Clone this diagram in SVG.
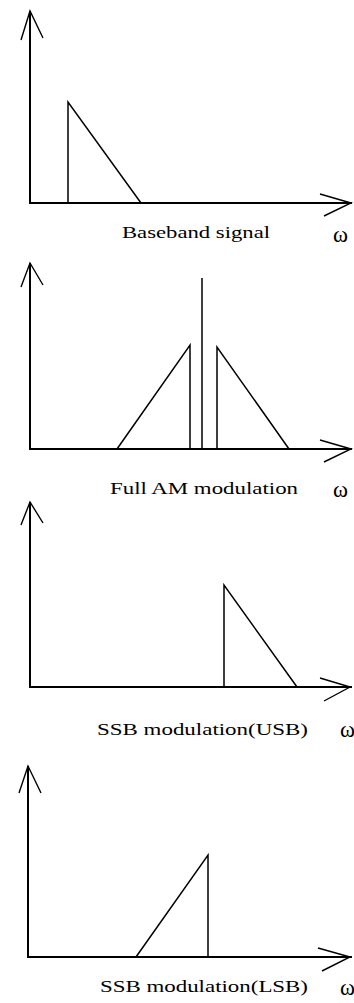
<svg xmlns="http://www.w3.org/2000/svg" width="354" height="1003" viewBox="0 0 354 1003">
<style>
.ax{stroke:#000;stroke-width:2;fill:none}
.ah{stroke:#000;stroke-width:1.4;fill:none}
.sp{stroke:#000;stroke-width:1.5;fill:none}
.lb{font-family:"Liberation Serif",serif;font-size:17px;fill:#000}
.om{font-family:"Liberation Serif","DejaVu Serif",serif;font-size:23px;fill:#000}
</style>
<rect width="354" height="1003" fill="#fff"/>
<g id="panel-baseband">
<line class="ax" x1="30" y1="11" x2="30" y2="203"/>
<polyline class="ah" points="21,40 30,11 43,38"/>
<line class="ax" x1="29" y1="203" x2="352" y2="203"/>
<polyline class="ah" points="320,194 351,203 324,216"/>
<polyline class="sp" points="68,203 68,102 141,203"/>
<text class="lb" x="122" y="238" textLength="148" lengthAdjust="spacingAndGlyphs">Baseband signal</text>
<text class="om" x="333" y="242" textLength="15" lengthAdjust="spacingAndGlyphs">ω</text>
</g>
<g id="panel-fullam">
<line class="ax" x1="30" y1="263" x2="30" y2="449"/>
<polyline class="ah" points="21,287 30,263 43,285"/>
<line class="ax" x1="29" y1="449" x2="352" y2="449"/>
<polyline class="ah" points="320,440 351,449 324,462"/>
<polyline class="sp" points="117,449 190,345 190,449"/>
<line class="sp" x1="202" y1="278" x2="202" y2="449"/>
<polyline class="sp" points="217,449 217,347 289,449"/>
<text class="lb" x="110" y="494" textLength="188" lengthAdjust="spacingAndGlyphs">Full AM modulation</text>
<text class="om" x="333" y="497" textLength="15" lengthAdjust="spacingAndGlyphs">ω</text>
</g>
<g id="panel-usb">
<line class="ax" x1="30" y1="502" x2="30" y2="687"/>
<polyline class="ah" points="21,525 30,502 43,523"/>
<line class="ax" x1="29" y1="687" x2="352" y2="687"/>
<polyline class="ah" points="320,678 350,687 324,701"/>
<polyline class="sp" points="224,687 224,585 297,687"/>
<text class="lb" x="97" y="735" textLength="211" lengthAdjust="spacingAndGlyphs">SSB modulation(USB)</text>
<text class="om" x="340" y="737" textLength="15" lengthAdjust="spacingAndGlyphs">ω</text>
</g>
<g id="panel-lsb">
<line class="ax" x1="28" y1="766" x2="28" y2="957"/>
<polyline class="ah" points="19,793 28,766 41,793"/>
<line class="ax" x1="27" y1="957" x2="352" y2="957"/>
<polyline class="ah" points="318,948 350,957 322,971"/>
<polyline class="sp" points="136,957 208,855 208,957"/>
<text class="lb" x="100" y="992" textLength="208" lengthAdjust="spacingAndGlyphs">SSB modulation(LSB)</text>
<text class="om" x="340" y="995" textLength="15" lengthAdjust="spacingAndGlyphs">ω</text>
</g>
<g id="connectors"/>
</svg>
